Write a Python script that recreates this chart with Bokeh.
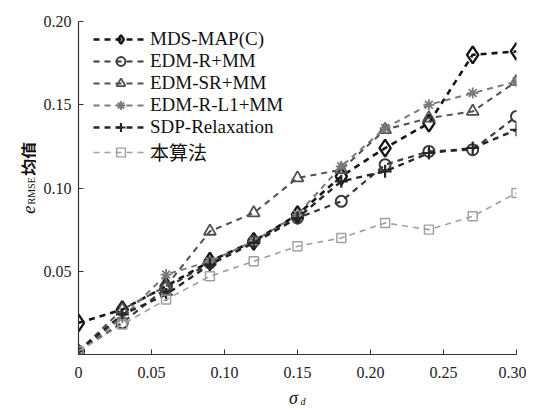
import math
from bokeh.plotting import figure
from bokeh.layouts import row, column
from bokeh.models import Range1d, FixedTicker, NumeralTickFormatter
from bokeh.core.properties import value
from bokeh.embed import file_html
from bokeh.resources import INLINE

# ---- data ----
sigma = [0, 0.03, 0.06, 0.09, 0.12, 0.15, 0.18, 0.21, 0.24, 0.27, 0.30]
mds_map_c = [0.019, 0.027, 0.041, 0.056, 0.068, 0.084, 0.107, 0.124, 0.139, 0.180, 0.182]
edm_r_mm = [0.002, 0.019, 0.040, 0.055, 0.068, 0.082, 0.092, 0.114, 0.122, 0.123, 0.143]
edm_sr_mm = [0.002, 0.027, 0.041, 0.074, 0.085, 0.106, 0.111, 0.135, 0.142, 0.146, 0.164]
edm_r_l1_mm = [0.002, 0.022, 0.048, 0.056, 0.068, 0.084, 0.113, 0.136, 0.150, 0.157, 0.164]
sdp_relax = [0.002, 0.024, 0.036, 0.054, 0.067, 0.082, 0.104, 0.110, 0.121, 0.124, 0.135]
ours = [0.002, 0.018, 0.033, 0.047, 0.056, 0.065, 0.070, 0.079, 0.075, 0.083, 0.097]

series_names = ["MDS-MAP(C)", "EDM-R+MM", "EDM-SR+MM", "EDM-R-L1+MM", "SDP-Relaxation", "本算法"]
series_values = [mds_map_c, edm_r_mm, edm_sr_mm, edm_r_l1_mm, sdp_relax, ours]

x_ticks = [0, 0.05, 0.10, 0.15, 0.20, 0.25, 0.30]
y_ticks = [0.05, 0.10, 0.15, 0.20]

# ---- styles ----
styles = [
    dict(marker="diamond", size=17, color="#151515", lw=2.6),
    dict(marker="circle", size=11, color="#3a3a3a", lw=2.2),
    dict(marker="triangle", size=12, color="#505050", lw=2.0),
    dict(marker="asterisk", size=11, color="#7a7a7a", lw=2.0),
    dict(marker="cross", size=13, color="#262626", lw=2.4),
    dict(marker="square", size=9, color="#a0a0a0", lw=1.6),
]

SERIF = "Liberation Serif, Noto Sans CJK SC"

BORDER_L, BORDER_R, BORDER_T, BORDER_B = 42, 10, 21, 30
FRAME_W, FRAME_H = 438, 333

# ---- main plot ----
p = figure(frame_width=FRAME_W, frame_height=FRAME_H,
           x_range=Range1d(0, 0.30), y_range=Range1d(0, 0.20),
           output_backend="svg", toolbar_location=None,
           min_border_left=BORDER_L, min_border_right=BORDER_R,
           min_border_top=BORDER_T, min_border_bottom=BORDER_B)
p.outline_line_color = None
p.xgrid.visible = False
p.ygrid.visible = False

for name, vals, st in zip(series_names, series_values, styles):
    p.line(sigma, vals, line_color=st["color"], line_width=st["lw"],
           line_dash="6 5", legend_label=name)
    p.scatter(sigma, vals, marker=st["marker"], size=st["size"],
              line_color=st["color"], line_width=st["lw"] * 0.9,
              fill_color=None, legend_label=name)

for ax in (p.xaxis[0], p.yaxis[0]):
    ax.axis_line_color = "#333333"
    ax.axis_line_width = 1.2
    ax.major_tick_line_color = "#333333"
    ax.major_tick_in = 5
    ax.major_tick_out = 0
    ax.minor_tick_line_color = None
    ax.major_label_text_font = SERIF
    ax.major_label_text_font_size = "16px"
    ax.major_label_text_color = "#222222"

p.xaxis.ticker = FixedTicker(ticks=x_ticks)
p.xaxis.formatter = NumeralTickFormatter(format="0.00")
p.xaxis.major_label_overrides = {0: "0"}
p.xaxis.major_label_standoff = 12
p.yaxis.ticker = FixedTicker(ticks=y_ticks)
p.yaxis.formatter = NumeralTickFormatter(format="0.00")
p.yaxis.major_label_standoff = 7

leg = p.legend[0]
leg.location = (15, 189)
leg.border_line_color = None
leg.background_fill_alpha = 0
leg.glyph_width = 55
leg.glyph_height = 22
leg.label_height = 22
leg.spacing = 0
leg.padding = 4
leg.margin = 0
leg.label_standoff = 2
leg.label_text_font = SERIF
leg.label_text_font_size = "19px"
leg.label_text_color = "#111111"

TOTAL_H = BORDER_T + FRAME_H + BORDER_B
LEFT_W = 36


def blank(width, height):
    f = figure(width=width, height=height, output_backend="svg",
               toolbar_location=None, x_axis_location=None, y_axis_location=None,
               x_range=Range1d(0, width), y_range=Range1d(0, height),
               min_border=0)
    f.outline_line_color = None
    f.grid.visible = False
    return f


# ---- y title: e_RMSE均值 (rotated, reads bottom to top) ----
pl = blank(LEFT_W, TOTAL_H)
pl.text(x=[28], y=[162], text=["e"], angle=math.pi / 2,
        text_font=value(SERIF), text_font_style="italic",
        text_font_size=value("19px"), text_align="left",
        text_baseline="alphabetic", text_color="#111111")
pl.text(x=[31], y=[173], text=["RMSE"], angle=math.pi / 2,
        text_font=value(SERIF), text_font_size=value("10px"),
        text_align="left", text_baseline="alphabetic", text_color="#111111")
pl.text(x=[28], y=[206], text=["均值"], angle=math.pi / 2,
        text_font=value("Noto Sans CJK SC"), text_font_style="bold",
        text_font_size=value("17px"), text_align="left",
        text_baseline="alphabetic", text_color="#111111")

# ---- x title: σ_d ----
BOTTOM_H = 24
pb = blank(LEFT_W + BORDER_L + FRAME_W + BORDER_R, BOTTOM_H)
pb.text(x=[293], y=[11], text=["σ"], text_font=value(SERIF),
        text_font_style="italic", text_font_size=value("18px"),
        text_align="center", text_baseline="alphabetic", text_color="#111111")
pb.text(x=[300], y=[7], text=["d"], text_font=value(SERIF),
        text_font_style="italic", text_font_size=value("10px"),
        text_align="left", text_baseline="alphabetic", text_color="#111111")

layout = column(row(pl, p, spacing=0), pb, spacing=0)

open("out.html", "w").write(file_html(layout, INLINE))
